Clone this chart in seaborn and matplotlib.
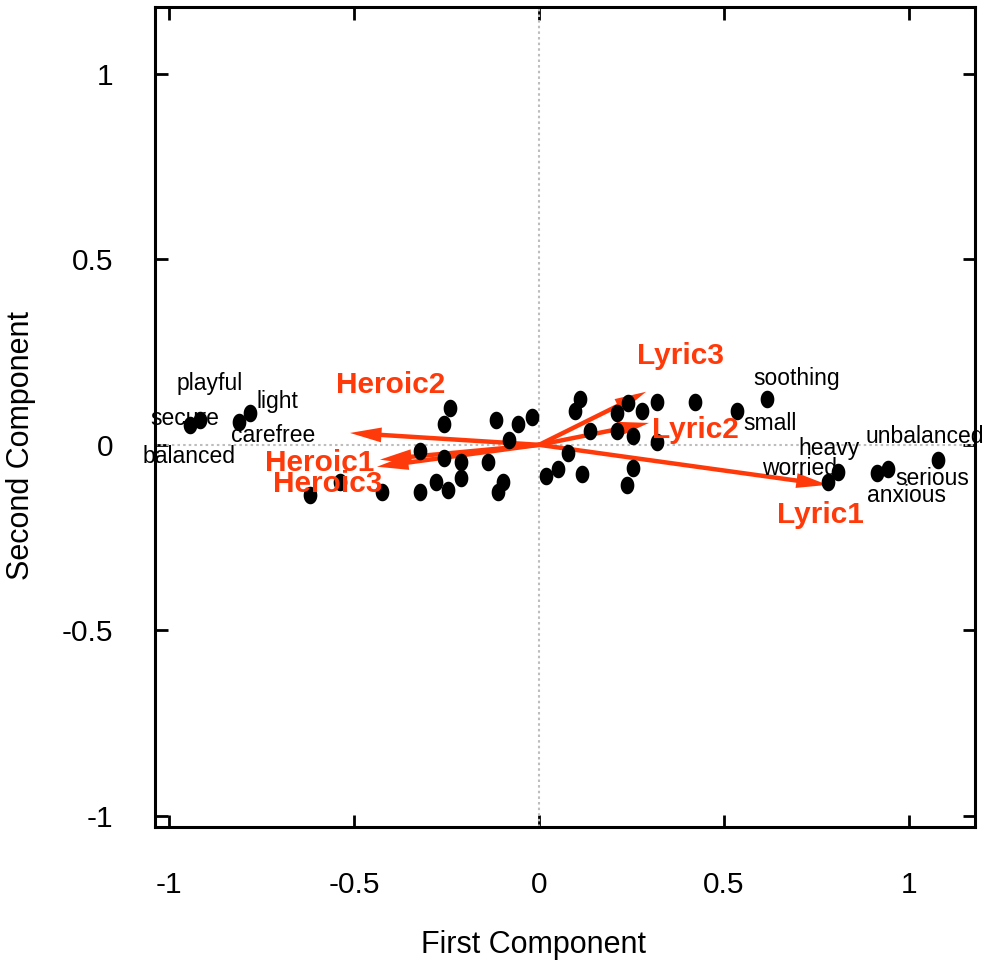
import numpy as np
import pandas as pd
import matplotlib
matplotlib.use("Agg")
import matplotlib.pyplot as plt
import seaborn as sns
from matplotlib.path import Path

# ---- data ----
pc1 = [-0.943, -0.916, -0.811, -0.781, -0.619, -0.538, -0.424, -0.322, -0.322, -0.278,
       -0.257, -0.257, -0.241, -0.246, -0.211, -0.211, -0.138, -0.116, -0.097, -0.111,
       -0.081, -0.057, -0.019, 0.019, 0.051, 0.078, 0.116, 0.097, 0.111, 0.138,
       0.211, 0.211, 0.241, 0.254, 0.278, 0.319, 0.319, 0.254, 0.238, 0.422,
       0.535, 0.616, 0.781, 0.808, 0.914, 0.943, 1.078]
pc2 = [0.054, 0.067, 0.062, 0.086, -0.135, -0.100, -0.127, -0.016, -0.127, -0.100,
       -0.035, 0.057, 0.100, -0.121, -0.046, -0.089, -0.046, 0.067, -0.100, -0.127,
       0.013, 0.057, 0.075, -0.084, -0.065, -0.022, -0.078, 0.092, 0.124, 0.038,
       0.086, 0.038, 0.113, 0.024, 0.092, 0.116, 0.008, -0.062, -0.108, 0.116,
       0.092, 0.124, -0.100, -0.073, -0.075, -0.065, -0.040]

word_labels = ["playful", "light", "secure", "carefree", "balanced", "soothing", "small",
               "heavy", "unbalanced", "worried", "serious", "anxious"]
word_x = [-0.889, -0.708, -0.957, -0.719, -0.946, 0.695, 0.624, 0.784, 1.043, 0.705, 1.062, 0.992]
word_y = [0.164, 0.116, 0.070, 0.024, -0.032, 0.178, 0.057, -0.011, 0.022, -0.065, -0.092, -0.137]

vec_names = ["Lyric1", "Lyric2", "Lyric3", "Heroic1", "Heroic2", "Heroic3"]
vec_x = [0.780, 0.297, 0.289, -0.430, -0.511, -0.438]
vec_y = [-0.108, 0.059, 0.143, -0.040, 0.032, -0.059]
vec_label_x = [0.759, 0.422, 0.381, -0.592, -0.400, -0.570]
vec_label_y = [-0.189, 0.040, 0.240, -0.049, 0.162, -0.105]

tick_vals = [-1, -0.5, 0, 0.5, 1]
tick_text = ["-1", "-0.5", "0", "0.5", "1"]

RED = "#ff3a0a"

sns.set_theme(style="white")
plt.rcParams["font.family"] = ["Liberation Sans", "DejaVu Sans"]
plt.rcParams["text.color"] = "black"
plt.rcParams["axes.labelcolor"] = "black"
plt.rcParams["xtick.color"] = "black"
plt.rcParams["ytick.color"] = "black"

fig = plt.figure(figsize=(9.85, 9.65), dpi=100)
ax = fig.add_axes([155/985, 1-827/965, 820/985, 820/965])

ax.set_xlim(-1.038, 1.178)
ax.set_ylim(-1.03, 1.18)

# zero lines
ax.axhline(0, color="#bdbdbd", lw=1.5, ls=(0, (1.2, 1.5)), zorder=1)
ax.axvline(0, color="#bdbdbd", lw=1.5, ls=(0, (1.2, 1.5)), zorder=1)

# vectors
for vx, vy in zip(vec_x, vec_y):
    ax.arrow(0, 0, vx, vy, width=0.012, head_width=0.04, head_length=0.085,
             length_includes_head=True, color=RED, lw=0, zorder=2)

# points (slightly tall ellipse marker)
t = np.linspace(0, 2*np.pi, 40)
ell = Path(np.column_stack([0.78*np.cos(t), np.sin(t)]))
df = pd.DataFrame({"pc1": pc1, "pc2": pc2})
sns.scatterplot(data=df, x="pc1", y="pc2", ax=ax, marker=ell, s=160,
                color="black", edgecolor="black", linewidth=0, zorder=3)

for lab, x, y in zip(word_labels, word_x, word_y):
    ax.text(x, y, lab, fontsize=16.5, ha="center", va="center", color="black",
            zorder=4, clip_on=False)

for lab, x, y in zip(vec_names, vec_label_x, vec_label_y):
    ax.text(x, y, lab, fontsize=21.5, fontweight="bold", ha="center", va="center",
            color=RED, zorder=5, clip_on=False)

ax.set_xticks(tick_vals)
ax.set_xticklabels(tick_text)
ax.set_yticks(tick_vals)
ax.set_yticklabels(tick_text)
ax.tick_params(axis="both", direction="in", length=9, width=2, color="black",
               labelsize=21.5, labelcolor="black",
               top=True, right=True, bottom=True, left=True)
ax.tick_params(axis="x", pad=32)
ax.tick_params(axis="y", pad=30)

for s in ax.spines.values():
    s.set_color("black")
    s.set_linewidth(2.2)

ax.set_xlabel("First Component", fontsize=22, color="black")
ax.set_ylabel("Second Component", fontsize=22, color="black")
ax.xaxis.set_label_coords(0.461, -0.126)
ax.yaxis.set_label_coords(-0.145, 0.465)

fig.savefig("out.png", dpi=100)
